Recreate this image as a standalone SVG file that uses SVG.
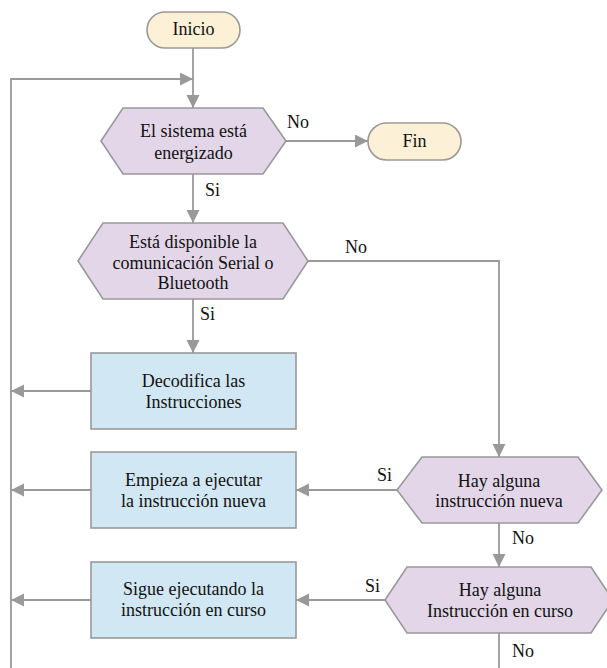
<svg xmlns="http://www.w3.org/2000/svg" width="607" height="668" viewBox="0 0 607 668">
<defs>
<style>
text{font-family:'Liberation Serif','Times New Roman',serif;font-size:18px;fill:#111}
.t{text-anchor:middle}
.term{fill:#fcf0d6;stroke:#999;stroke-width:1.6}
.dec{fill:#e2d6e8;stroke:#999;stroke-width:1.6}
.proc{fill:#d1e7f3;stroke:#999;stroke-width:1.6}
.c{fill:none;stroke:#999;stroke-width:1.8}
</style>
<marker id="a" markerUnits="userSpaceOnUse" markerWidth="14" markerHeight="14" refX="13" refY="6.5" orient="auto">
<path d="M0,0 L13,6.5 L0,13 z" fill="#999"/>
</marker>
</defs>
<rect width="607" height="668" fill="#fff"/>
<g id="connectors">
<path class="c" d="M193,48 V108" marker-end="url(#a)"/>
<path class="c" d="M11,668 V79 H193" marker-end="url(#a)"/>
<path class="c" d="M286,141 H368" marker-end="url(#a)"/>
<path class="c" d="M193,174 V223" marker-end="url(#a)"/>
<path class="c" d="M193,299 V353" marker-end="url(#a)"/>
<path class="c" d="M308,261 H499 V457" marker-end="url(#a)"/>
<path class="c" d="M499,523 V567" marker-end="url(#a)"/>
<path class="c" d="M397,490 H296" marker-end="url(#a)"/>
<path class="c" d="M385,600 H296" marker-end="url(#a)"/>
<path class="c" d="M499,633 V668"/>
<path class="c" d="M91,391 H11" marker-end="url(#a)"/>
<path class="c" d="M91,490 H11" marker-end="url(#a)"/>
<path class="c" d="M91,600 H11" marker-end="url(#a)"/>
<text x="287" y="128">No</text>
<text x="205" y="196">Si</text>
<text x="345" y="253">No</text>
<text x="200" y="320">Si</text>
<text x="377" y="481">Si</text>
<text x="512" y="544">No</text>
<text x="365" y="592">Si</text>
<text x="512" y="657">No</text>
</g>
<g id="inicio">
<rect class="term" x="147" y="12" width="93" height="36" rx="18"/>
<text class="t" x="193.5" y="35">Inicio</text>
</g>
<g id="fin">
<rect class="term" x="368" y="123" width="93" height="37" rx="18.5"/>
<text class="t" x="414.5" y="147">Fin</text>
</g>
<g id="d1">
<polygon class="dec" points="101,141 123,108 263,108 286,141 263,174 123,174"/>
<text class="t" x="193.5" y="137">El sistema está</text>
<text class="t" x="193.5" y="159">energizado</text>
</g>
<g id="d2">
<polygon class="dec" points="78,261 103,223 283,223 308,261 283,299 103,299"/>
<text class="t" x="193" y="248">Está disponible la</text>
<text class="t" x="193" y="269">comunicación Serial o</text>
<text class="t" x="193" y="289">Bluetooth</text>
</g>
<g id="p1">
<rect class="proc" x="91" y="353" width="205" height="76"/>
<text class="t" x="193.5" y="387">Decodifica las</text>
<text class="t" x="193.5" y="408">Instrucciones</text>
</g>
<g id="p2">
<rect class="proc" x="91" y="452" width="205" height="76"/>
<text class="t" x="193.5" y="486">Empieza a ejecutar</text>
<text class="t" x="193.5" y="507">la instrucción nueva</text>
</g>
<g id="d3">
<polygon class="dec" points="397,490 422,457 578,457 602,490 578,523 422,523"/>
<text class="t" x="499" y="487">Hay alguna</text>
<text class="t" x="499" y="507">instrucción nueva</text>
</g>
<g id="d4">
<polygon class="dec" points="385,600 407,567 591,567 613,600 591,633 407,633"/>
<text class="t" x="500" y="596">Hay alguna</text>
<text class="t" x="500" y="617">Instrucción en curso</text>
</g>
<g id="p3">
<rect class="proc" x="91" y="562" width="205" height="76"/>
<text class="t" x="193.5" y="595">Sigue ejecutando la</text>
<text class="t" x="193.5" y="616">instrucción en curso</text>
</g>
</svg>
